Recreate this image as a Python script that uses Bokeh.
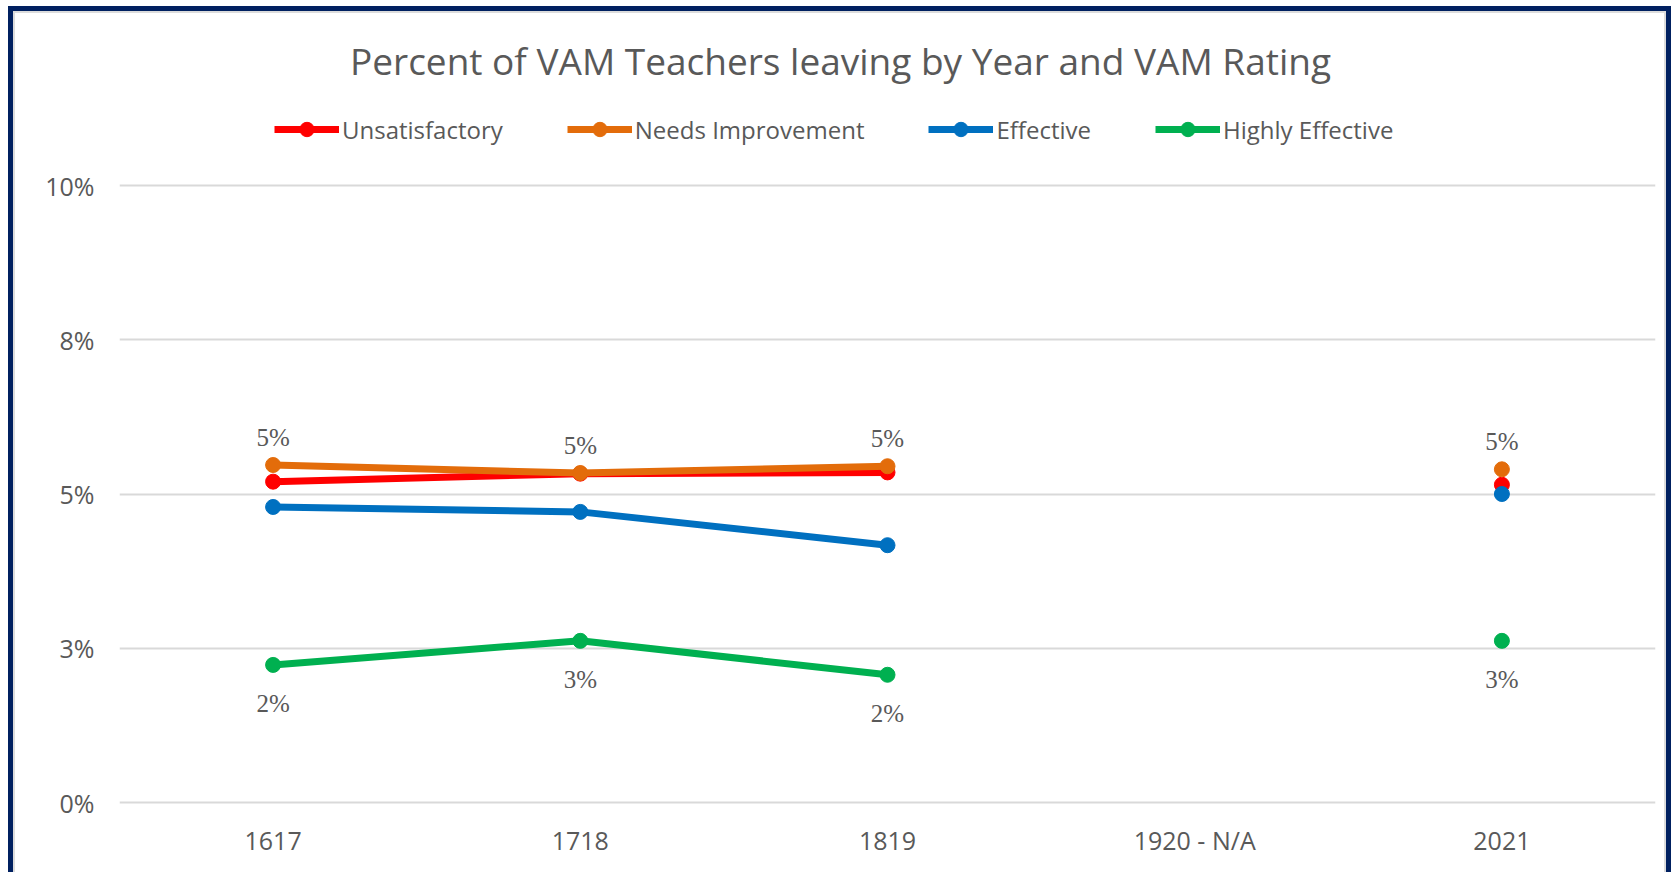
import math
from bokeh.plotting import figure
from bokeh.models import (ColumnDataSource, FactorRange, Range1d, FixedTicker,
                          Legend, LegendItem, LabelSet, Label)
from bokeh.embed import file_html
from bokeh.resources import INLINE

nan = float("nan")

# ---- data ----
categories = ["1617", "1718", "1819", "1920 - N/A", "2021"]
unsatisfactory = [5.20, 5.33, 5.35, nan, 5.15]
needs_improvement = [5.47, 5.34, 5.45, nan, 5.40]
effective = [4.79, 4.71, 4.17, nan, 5.00]
highly_effective = [2.23, 2.62, 2.07, nan, 2.62]
series_names = ["Unsatisfactory", "Needs Improvement", "Effective", "Highly Effective"]
ytick_values = [0, 2.5, 5, 7.5, 10]
ytick_labels = ["0%", "3%", "5%", "8%", "10%"]
title_text = "Percent of VAM Teachers leaving by Year and VAM Rating"

# ---- style / layout ----
colors = ["#FF0000", "#E36C0A", "#0070C0", "#00B050"]
FONT = "Open Sans"
TXT = "#595959"
W, H = 1663, 866
FRAME_L, FRAME_R, FRAME_B = 111, 16, 60
frame_h = H - FRAME_B
px_per_unit = 61.7
zero_px_above_bottom = 10
y0 = -zero_px_above_bottom / px_per_unit
y1 = y0 + frame_h / px_per_unit
band_px = (W - FRAME_L - FRAME_R) / len(categories)

p = figure(width=W, height=H,
           x_range=FactorRange(factors=categories, range_padding=0),
           y_range=Range1d(y0, y1),
           output_backend="svg", toolbar_location=None,
           min_border_left=FRAME_L, min_border_right=FRAME_R,
           min_border_top=0, min_border_bottom=FRAME_B)
p.styles = {"margin-left": "8px", "margin-top": "6px",
            "background-color": "white",
            "box-shadow": ("inset 5px 0 0 0 #002060, inset 0 5px 0 0 #002060, "
                           "inset -5px 0 0 0 #002060, inset 7px 0 0 0 #DCDCDC, "
                           "inset 0 7px 0 0 #DCDCDC, inset -7px 0 0 0 #DCDCDC")}
p.outline_line_color = None
p.background_fill_alpha = 0
p.border_fill_alpha = 0

p.xgrid.visible = False
p.ygrid.grid_line_color = "#D9D9D9"
p.ygrid.grid_line_width = 2

p.yaxis.ticker = FixedTicker(ticks=ytick_values)
p.yaxis.major_label_overrides = {v: s for v, s in zip(ytick_values, ytick_labels)}
for ax in (p.xaxis[0], p.yaxis[0]):
    ax.axis_line_color = None
    ax.major_tick_line_color = None
    ax.minor_tick_line_color = None
    ax.major_label_text_font = FONT
    ax.major_label_text_font_size = "25px"
    ax.major_label_text_color = TXT
p.yaxis.major_label_standoff = 19
p.xaxis.major_label_standoff = 4

all_series = [unsatisfactory, needs_improvement, effective, highly_effective]
items = []
for name, vals, col in zip(series_names, all_series, colors):
    src = ColumnDataSource(dict(x=categories, y=vals))
    lr = p.line("x", "y", source=src, line_color=col, line_width=7)
    sr = p.scatter("x", "y", source=src, size=15, fill_color=col, line_color=col)
    items.append(LegendItem(label=name, renderers=[lr, sr]))

# data labels: Needs Improvement above, Highly Effective below
def label_source(vals):
    xs = [c for c, v in zip(categories, vals) if not math.isnan(v)]
    ys = [v for v in vals if not math.isnan(v)]
    ts = [f"{round(v)}%" for v in ys]
    return ColumnDataSource(dict(x=xs, y=ys, t=ts))

for vals, off in ((needs_improvement, 28), (highly_effective, -39)):
    ls = LabelSet(x="x", y="y", text="t", source=label_source(vals),
                  y_offset=off, text_align="center", text_baseline="middle",
                  text_font=FONT, text_font_size="25px", text_color=TXT)
    p.add_layout(ls)

legend = Legend(items=items, orientation="horizontal", location=(155, 665),
                glyph_width=65, glyph_height=36, label_height=36,
                label_standoff=3, spacing=64, padding=0, margin=0,
                border_line_color=None, background_fill_alpha=0,
                label_text_font=FONT, label_text_font_size="24px",
                label_text_color=TXT)
p.add_layout(legend, "center")

title_x = (832 - FRAME_L) / band_px
title_y = y1 - 54 / px_per_unit
p.add_layout(Label(x=title_x, y=title_y, text=title_text, text_align="center",
                   text_baseline="middle", text_font=FONT,
                   text_font_size="37px", text_color=TXT))

open("out.html", "w").write(file_html(p, INLINE))
